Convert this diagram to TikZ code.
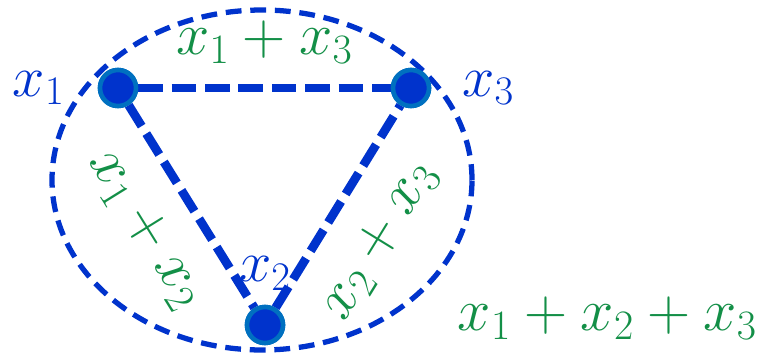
\RequirePackage{fix-cm}
\documentclass[tikz,border=0pt]{standalone}
\usepackage{tikz}
\usetikzlibrary{positioning}
\usepackage{xcolor}
\definecolor{edgeblue}{HTML}{0033CC}
\definecolor{ringblue}{HTML}{0070C0}
\definecolor{sumgreen}{HTML}{138F47}
\tikzset{
  vertex/.style={circle,fill=edgeblue,draw=ringblue,line width=2.6pt,
                 minimum size=0.72cm,inner sep=0pt},
  vlabel/.style={text=edgeblue,inner sep=1pt,
                 font=\fontsize{33}{38}\selectfont},
  elabel/.style={text=sumgreen,inner sep=1pt,
                 font=\fontsize{34}{40}\selectfont},
  tri/.style={edgeblue,line width=5pt,dash pattern=on 14pt off 5pt},
  hull/.style={edgeblue,line width=3pt,dash pattern=on 9pt off 5pt},
}
\begin{document}
\begin{tikzpicture}
    \useasboundingbox (0,0) rectangle (15.28,7.10);

    % Vertices
    \node[vertex] (v1) at (2.36,5.34) {};
    \node[vertex] (v3) at (8.22,5.34) {};
    \node[vertex] (v2) at (5.30,0.60) {};

    % Enclosing set
    \coordinate (c) at (5.24,3.50);
    \draw[hull] (c) ellipse [x radius=4.2cm,y radius=3.4cm];

    % Edges with their sums
    \draw[tri] (v1) -- node[elabel,above=0.36cm] (e13) {$x_1+x_3$} (v3);
    \draw[tri] (v1) -- node[elabel,sloped,pos=0.48,below=0.48cm] (e12)
          {$x_1+x_2$} (v2);
    \draw[tri] (v2) -- node[elabel,sloped,pos=0.47,below=0.52cm] (e23)
          {$x_2+x_3$} (v3);

    % Redraw vertices on top
    \foreach \v in {v1,v2,v3}{
      \node[vertex] at (\v) {};
    }

    % Vertex names
    \node[vlabel,left=0.62cm of v1]  (l1) {$x_1$};
    \node[vlabel,right=0.58cm of v3] (l3) {$x_3$};
    \node[vlabel,above=0.25cm of v2] (l2) {$x_2$};

    % Sum of the whole set
    \node[elabel] (s123) at (12.15,0.74) {$x_1+x_2+x_3$};
\end{tikzpicture}
\end{document}
